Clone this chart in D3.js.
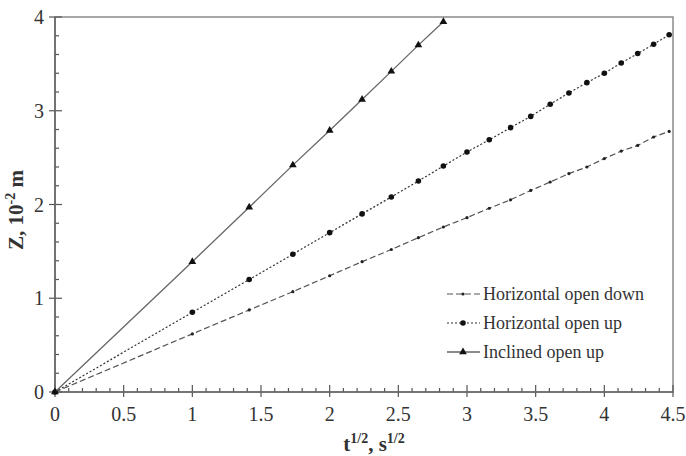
<!DOCTYPE html>
<html><head><meta charset="utf-8">
<script src="https://cdn.jsdelivr.net/npm/d3@7"></script>
<style>body{margin:0;background:#fff}svg{display:block}</style>
</head><body>
<svg id="c" width="686" height="456"></svg>
<script>
const xTicks = [0,0.5,1,1.5,2,2.5,3,3.5,4,4.5];
const xTickLabels = ["0","0.5","1","1.5","2","2.5","3","3.5","4","4.5"];
const yTicks = [0,1,2,3,4];
const yTickLabels = ["0","1","2","3","4"];
const seriesNames = ["Horizontal open down","Horizontal open up","Inclined open up"];
// x = sqrt(t)
const xDown = [0,1,1.414,1.732,2,2.236,2.449,2.646,2.828,3,3.162,3.317,3.464,3.606,3.742,3.873,4,4.123,4.243,4.359,4.472];
const yDown = [0,0.62,0.875,1.07,1.24,1.39,1.52,1.646,1.76,1.86,1.96,2.05,2.15,2.24,2.33,2.40,2.49,2.57,2.63,2.72,2.78];
const xUp = [0,1,1.414,1.732,2,2.236,2.449,2.646,2.828,3,3.162,3.317,3.464,3.606,3.742,3.873,4,4.123,4.243,4.359,4.472];
const yUp = [0,0.85,1.20,1.47,1.70,1.90,2.08,2.25,2.41,2.56,2.69,2.82,2.94,3.07,3.19,3.30,3.40,3.51,3.61,3.71,3.81];
const xInc = [0,1,1.414,1.732,2,2.236,2.449,2.646,2.828];
const yInc = [0,1.39,1.97,2.42,2.79,3.12,3.42,3.70,3.95];

const svg = d3.select("#c");
const L=55,R=673,T=17,B=392;
const x = d3.scaleLinear().domain([0,4.5]).range([L,R]);
const y = d3.scaleLinear().domain([0,4]).range([B,T]);
const font = "'Liberation Serif','Times New Roman',serif";

// frame
svg.append("rect").attr("x",L).attr("y",T).attr("width",R-L).attr("height",B-T)
  .attr("fill","none").attr("stroke","#8a8a8a").attr("stroke-width",1.5);

// ticks
const g = svg.append("g").attr("stroke","#555").attr("stroke-width",1.2);
d3.range(0,4.5001,0.1).forEach(v=>{
  const major = Math.abs(v*2-Math.round(v*2))<1e-6;
  g.append("line").attr("x1",x(v)).attr("x2",x(v)).attr("y1",B+(major?5:0)).attr("y2",B-(major?7:4));
});
d3.range(0,4.0001,0.2).forEach(v=>{
  const major = Math.abs(v-Math.round(v))<1e-6;
  g.append("line").attr("y1",y(v)).attr("y2",y(v)).attr("x1",L-(major?6:0)).attr("x2",L+(major?7:4));
});
svg.append("line").attr("x1",L).attr("x2",R).attr("y1",B).attr("y2",B).attr("stroke","#666").attr("stroke-width",1.6);
svg.append("line").attr("x1",L).attr("x2",L).attr("y1",T).attr("y2",B).attr("stroke","#666").attr("stroke-width",1.6);

// tick labels
xTicks.forEach((v,i)=>svg.append("text").attr("x",x(v)).attr("y",B+29).attr("text-anchor","middle")
  .attr("font-family",font).attr("font-size",20).attr("fill","#333").text(xTickLabels[i]));
yTicks.forEach((v,i)=>svg.append("text").attr("x",L-11).attr("y",y(v)+7).attr("text-anchor","end")
  .attr("font-family",font).attr("font-size",20).attr("fill","#333").text(yTickLabels[i]));

// axis titles
const xt = svg.append("text").attr("x",374).attr("y",451).attr("text-anchor","middle")
  .attr("font-family",font).attr("font-size",21).attr("font-weight","bold").attr("fill","#333");
xt.append("tspan").text("t");
xt.append("tspan").attr("font-size",14).attr("dy",-8).text("1/2");
xt.append("tspan").attr("dy",8).text(", s");
xt.append("tspan").attr("font-size",14).attr("dy",-8).text("1/2");
const yt = svg.append("text").attr("transform","translate(23,210) rotate(-90)").attr("text-anchor","middle")
  .attr("font-family",font).attr("font-size",21).attr("font-weight","bold").attr("fill","#333");
yt.append("tspan").text("Z, 10");
yt.append("tspan").attr("font-size",14).attr("dy",-8).text("-2");
yt.append("tspan").attr("dy",8).text(" m");

const line = d3.line().x(d=>x(d[0])).y(d=>y(d[1]));
const styles = [
  {xs:xDown, ys:yDown, dash:"6,3", stroke:"#555", w:1.2, marker:"smalldot"},
  {xs:xUp, ys:yUp, dash:"2,2", stroke:"#333", w:1.2, marker:"dot"},
  {xs:xInc, ys:yInc, dash:null, stroke:"#666", w:1.3, marker:"tri"}
];
function drawMarker(sel, type, cx, cy){
  if(type==="dot") sel.append("circle").attr("cx",cx).attr("cy",cy).attr("r",2.8).attr("fill","#111");
  else if(type==="smalldot") sel.append("circle").attr("cx",cx).attr("cy",cy).attr("r",1.6).attr("fill","#222");
  else sel.append("path").attr("d",d3.symbol(d3.symbolTriangle,26)()).attr("transform",`translate(${cx},${cy})`).attr("fill","#111");
}
styles.forEach(s=>{
  const data = s.xs.map((v,i)=>[v,s.ys[i]]);
  svg.append("path").datum(data).attr("d",line).attr("fill","none").attr("stroke",s.stroke)
    .attr("stroke-width",s.w).attr("stroke-dasharray",s.dash);
  const mg = svg.append("g");
  data.forEach(d=>drawMarker(mg,s.marker,x(d[0]),y(d[1])));
});

// legend
const legY = [294,323,352];
seriesNames.forEach((n,i)=>{
  const s = styles[i];
  svg.append("line").attr("x1",447).attr("x2",480).attr("y1",legY[i]).attr("y2",legY[i])
    .attr("stroke",s.stroke).attr("stroke-width",s.w).attr("stroke-dasharray",s.dash);
  drawMarker(svg,s.marker,463,legY[i]);
  svg.append("text").attr("x",483).attr("y",legY[i]+6).attr("font-family",font).attr("font-size",18)
    .attr("fill","#333").text(n);
});
</script>
</body></html>
